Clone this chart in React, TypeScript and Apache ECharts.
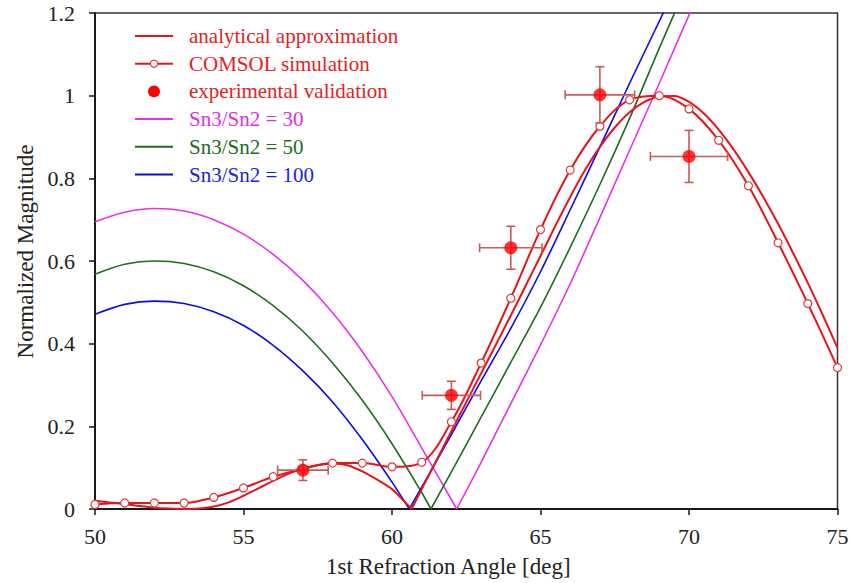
import React, { useEffect, useRef } from 'react';
import * as echarts from 'echarts';

// ---------- data ----------
const xTicks = [50, 55, 60, 65, 70, 75];
const yTicks = [0, 0.2, 0.4, 0.6, 0.8, 1.0, 1.2];

const analyticAngle = [50, 50.5, 51, 51.5, 52, 52.5, 53, 53.5, 54, 54.5, 55, 55.5, 56, 56.5, 57, 57.5, 58, 58.5, 59, 59.5, 60, 60.3, 60.66,
  61, 61.5, 62, 62.5, 63, 63.5, 64, 64.5, 65, 65.5, 66, 66.5, 67, 67.5, 68, 68.5, 69, 69.5, 70, 70.5, 71, 71.5, 72, 72.5, 73, 73.5, 74, 74.5, 75];
const analyticValue = [0.02, 0.016, 0.012, 0.007, 0.003, 0.001, 0.0, 0.001, 0.006, 0.016, 0.032, 0.05, 0.068, 0.085, 0.098, 0.106, 0.11, 0.106, 0.091, 0.071, 0.048, 0.027, 0,
  0.048, 0.118, 0.188, 0.258, 0.328, 0.398, 0.468, 0.54, 0.612, 0.685, 0.755, 0.82, 0.876, 0.923, 0.96, 0.985, 0.998, 0.999, 0.985, 0.957, 0.918, 0.87, 0.815, 0.755, 0.69, 0.62, 0.547, 0.47, 0.39];
const analyticVertex = 60.66;

const comsolAngle = [50, 51, 52, 53, 54, 55, 56, 57, 58, 59, 60, 61, 62, 63, 64, 65, 66, 67, 68, 69, 70, 71, 72, 73, 74, 75];
const comsolValue = [0.011, 0.0145, 0.0145, 0.0145, 0.028, 0.051, 0.078, 0.097, 0.111, 0.111, 0.102, 0.113, 0.211, 0.353, 0.51, 0.676, 0.82, 0.926, 0.99, 1.0, 0.968, 0.892, 0.782, 0.644, 0.497, 0.342];

const expAngle = [57, 62, 64, 67, 70];
const expValue = [0.094, 0.275, 0.632, 1.002, 0.853];
const expAngleErr = [0.85, 0.98, 1.05, 1.17, 1.3];
const expValueErr = [0.025, 0.034, 0.052, 0.068, 0.063];

const sn30Angle = [50, 51, 52, 53, 54, 55, 56, 57, 58, 59, 60, 61, 62.18, 63, 64, 65, 66, 67, 68, 69, 70, 71];
const sn30Value = [0.695, 0.718, 0.727, 0.721, 0.7, 0.665, 0.616, 0.553, 0.475, 0.381, 0.272, 0.148, 0, 0.113, 0.255, 0.397, 0.545, 0.705, 0.868, 1.03, 1.195, 1.36];
const sn30Vertex = 62.18;

const sn50Angle = [50, 51, 52, 53, 54, 55, 56, 57, 58, 59, 60, 61, 61.31, 62, 63, 64, 65, 66, 67, 68, 69, 70];
const sn50Value = [0.568, 0.592, 0.6, 0.594, 0.574, 0.54, 0.492, 0.43, 0.353, 0.263, 0.158, 0.04, 0, 0.09, 0.222, 0.355, 0.488, 0.633, 0.785, 0.945, 1.115, 1.28];
const sn50Vertex = 61.31;

const sn100Angle = [50, 51, 52, 53, 54, 55, 56, 57, 58, 59, 60, 60.58, 61, 62, 63, 64, 65, 66, 67, 68, 69, 70];
const sn100Value = [0.471, 0.495, 0.503, 0.497, 0.477, 0.444, 0.396, 0.334, 0.259, 0.168, 0.065, 0, 0.053, 0.18, 0.31, 0.437, 0.574, 0.724, 0.876, 1.03, 1.18, 1.33];
const sn100Vertex = 60.58;

const legendNames = ['analytical approximation', 'COMSOL simulation', 'experimental validation', 'Sn3/Sn2 = 30', 'Sn3/Sn2 = 50', 'Sn3/Sn2 = 100'];

// ---------- styles ----------
const FONT = 'Liberation Serif';
const RED = '#e8141c';
const MAGENTA = '#ec30ec';
const GREEN = '#1f6b1f';
const BLUE = '#0a0aee';
const ERR = '#c85a5a';
const AXIS = '#1a1a1a';

function zip(xs: number[], ys: number[]) {
  return xs.map((x, i) => [x, ys[i]]);
}
function splitAt(xs: number[], ys: number[], v: number) {
  const pts = zip(xs, ys);
  return [pts.filter((p) => p[0] <= v), pts.filter((p) => p[0] >= v)];
}

function vLineSeries(name: string, color: string, xs: number[], ys: number[], v: number, width: number, z: number) {
  const [a, b] = splitAt(xs, ys, v);
  return [a, b].map((d) => ({
    name,
    type: 'line',
    data: d,
    smooth: 0.3,
    symbol: 'none',
    lineStyle: { color, width },
    itemStyle: { color },
    clip: true,
    z,
  }));
}

export default function App() {
  const ref = useRef<HTMLDivElement>(null);
  useEffect(() => {
    const chart = echarts.init(ref.current!, null, { renderer: 'svg' });

    const legendColors = [RED, RED, RED, MAGENTA, GREEN, BLUE];
    const textColors = ['#e42222', '#e42222', '#e42222', '#e030e0', '#236b23', '#1e1ee6'];
    const legendGraphics: any[] = [];
    legendNames.forEach((name, i) => {
      const y = 36 + 27.7 * i;
      if (i !== 2) {
        legendGraphics.push({
          type: 'line',
          shape: { x1: 135, y1: y, x2: 173, y2: y },
          style: { stroke: legendColors[i], lineWidth: 2 },
          silent: true,
        });
      }
      if (i === 1) {
        legendGraphics.push({
          type: 'circle',
          shape: { cx: 154, cy: y, r: 3.6 },
          style: { fill: '#fff', stroke: '#e03c3c', lineWidth: 1.2 },
          silent: true,
        });
      }
      if (i === 2) {
        legendGraphics.push({
          type: 'circle',
          shape: { cx: 154, cy: y, r: 6 },
          style: { fill: '#ff0000' },
          silent: true,
        });
      }
      legendGraphics.push({
        type: 'text',
        x: 189,
        y,
        style: {
          text: name,
          fill: textColors[i],
          font: '21px Liberation Serif',
          align: 'left',
          verticalAlign: 'middle',
        },
        silent: true,
      });
    });

    const expData = expAngle.map((x, i) => [x, expValue[i], expAngleErr[i], expValueErr[i]]);

    const option: any = {
      animation: false,
      backgroundColor: '#fff',
      textStyle: { fontFamily: FONT },
      grid: {
        left: 95,
        top: 13,
        right: 14.5,
        bottom: 73,
        show: true,
        borderColor: '#333',
        borderWidth: 1.5,
        backgroundColor: 'transparent',
      },
      xAxis: {
        type: 'value',
        min: xTicks[0],
        max: xTicks[xTicks.length - 1],
        interval: 5,
        axisLine: { show: true, onZero: false, lineStyle: { color: AXIS, width: 2 } },
        axisTick: { show: true, inside: false, length: 6, lineStyle: { color: AXIS, width: 1.5 } },
        axisLabel: { fontFamily: FONT, fontSize: 22, color: '#222', margin: 16 },
        splitLine: { show: false },
        name: '1st Refraction Angle [deg]',
        nameLocation: 'middle',
        nameGap: 46,
        nameTextStyle: { fontFamily: FONT, fontSize: 23, color: '#222', padding: [0, 36, 0, 0] },
      },
      yAxis: {
        type: 'value',
        min: yTicks[0],
        max: yTicks[yTicks.length - 1],
        interval: 0.2,
        axisLine: { show: true, onZero: false, lineStyle: { color: AXIS, width: 2 } },
        axisTick: { show: true, inside: false, length: 6, lineStyle: { color: AXIS, width: 1.5 } },
        axisLabel: { fontFamily: FONT, fontSize: 22, color: '#222', margin: 20, padding: [1, 0, 0, 0] },
        splitLine: { show: false },
        name: 'Normalized Magnitude',
        nameLocation: 'middle',
        nameGap: 55,
        nameTextStyle: { fontFamily: FONT, fontSize: 23, color: '#222', padding: [0, 0, 0, 19] },
      },
      graphic: legendGraphics,
      series: [
        ...vLineSeries(legendNames[3], MAGENTA, sn30Angle, sn30Value, sn30Vertex, 1.6, 2),
        ...vLineSeries(legendNames[4], GREEN, sn50Angle, sn50Value, sn50Vertex, 1.6, 2),
        ...vLineSeries(legendNames[5], BLUE, sn100Angle, sn100Value, sn100Vertex, 1.6, 2),
        ...vLineSeries(legendNames[0], RED, analyticAngle, analyticValue, analyticVertex, 2, 3),
        {
          name: legendNames[1],
          type: 'line',
          data: zip(comsolAngle, comsolValue),
          smooth: 0.35,
          symbol: 'circle',
          symbolSize: 8,
          showSymbol: true,
          showAllSymbol: true,
          clip: false,
          lineStyle: { color: RED, width: 2 },
          itemStyle: { color: '#fff', borderColor: '#e03c3c', borderWidth: 1.2 },
          z: 4,
        },
        {
          name: 'error bars',
          type: 'custom',
          data: expData,
          encode: { x: 0, y: 1 },
          z: 5,
          renderItem: (params: any, api: any) => {
            const x = api.value(0);
            const y = api.value(1);
            const xe = api.value(2);
            const ye = api.value(3);
            const l = api.coord([x - xe, y]);
            const r = api.coord([x + xe, y]);
            const t = api.coord([x, y + ye]);
            const b = api.coord([x, y - ye]);
            const cap = 4.5;
            const st = { stroke: ERR, lineWidth: 1.6 };
            const mk = (x1: number, y1: number, x2: number, y2: number) => ({
              type: 'line',
              shape: { x1, y1, x2, y2 },
              style: st,
            });
            return {
              type: 'group',
              children: [
                mk(l[0], l[1], r[0], r[1]),
                mk(t[0], t[1], b[0], b[1]),
                mk(l[0], l[1] - cap, l[0], l[1] + cap),
                mk(r[0], r[1] - cap, r[0], r[1] + cap),
                mk(t[0] - cap, t[1], t[0] + cap, t[1]),
                mk(b[0] - cap, b[1], b[0] + cap, b[1]),
              ],
            };
          },
        },
        {
          name: legendNames[2],
          type: 'scatter',
          data: zip(expAngle, expValue),
          symbol: 'circle',
          symbolSize: 13,
          itemStyle: { color: '#ff0000' },
          z: 6,
        },
      ],
    };

    chart.setOption(option);
    return () => chart.dispose();
  }, []);

  return (
    <div
      ref={ref}
      style={{ position: 'absolute', left: 0, top: 0, width: 852, height: 583, background: '#fff' }}
    />
  );
}
